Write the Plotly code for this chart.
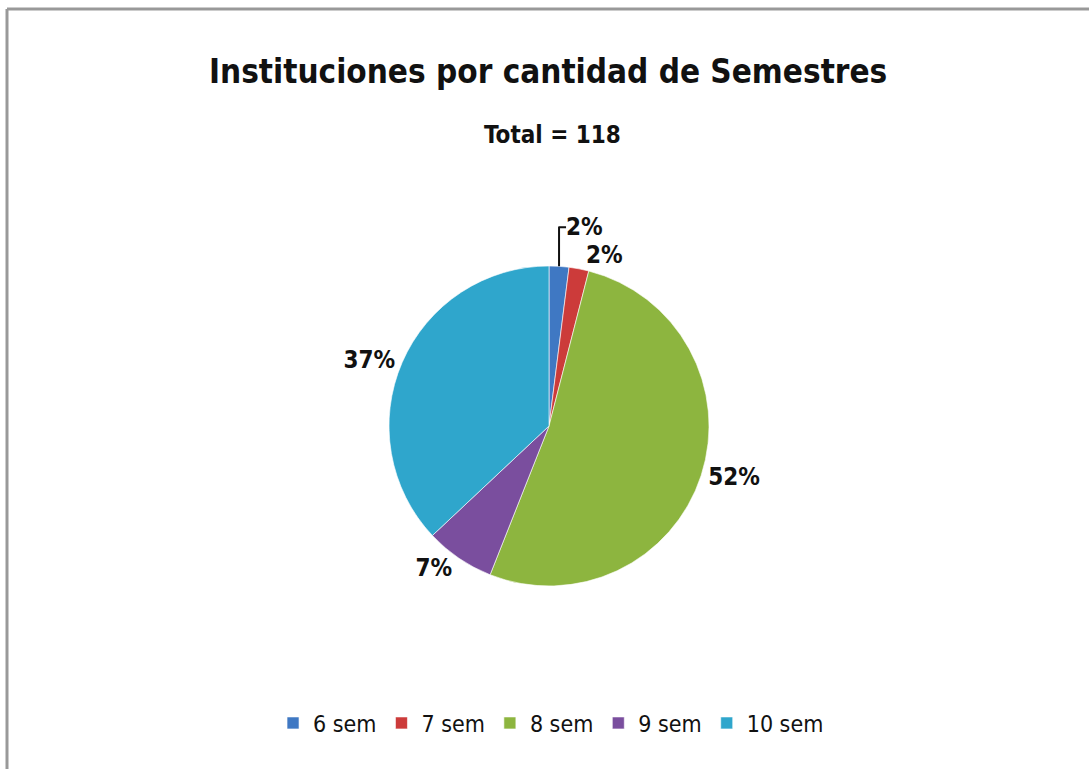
import plotly.graph_objects as go

categories = ["6 sem", "7 sem", "8 sem", "9 sem", "10 sem"]
percent_values = [2, 2, 52, 7, 37]
colors = ["#3F78C3", "#CC3B3A", "#8DB53F", "#7A4E9E", "#2FA6CC"]

title_text = "Instituciones por cantidad de Semestres"
subtitle_text = "Total = 118"

W, H = 1089, 769
narrow = "Liberation Sans Narrow, Arial Narrow, DejaVu Sans Condensed, Roboto Condensed, sans-serif"

cx, cy, d = 549, 426, 320

fig = go.Figure(
    go.Pie(
        labels=categories,
        values=percent_values,
        sort=False,
        direction="clockwise",
        rotation=0,
        marker=dict(colors=colors, line=dict(color="rgba(255,255,255,0.6)", width=1)),
        textposition="outside",
        texttemplate="%{percent:.0%}",
        textfont=dict(family=narrow, size=24, color="#111111", weight="bold"),
        outsidetextfont=dict(family=narrow, size=24, color="#111111", weight="bold"),
        domain=dict(x=[(cx - d / 2) / W, (cx + d / 2) / W],
                    y=[1 - (cy + d / 2) / H, 1 - (cy - d / 2) / H]),
        hoverinfo="label+percent",
    )
)

fig.update_layout(
    width=W,
    height=H,
    margin=dict(l=0, r=0, t=0, b=0),
    paper_bgcolor="white",
    plot_bgcolor="white",
    showlegend=True,
    legend=dict(
        orientation="h",
        x=0.506,
        xanchor="center",
        y=1 - 723 / H,
        yanchor="middle",
        font=dict(family=narrow, size=23, color="#111111"),
        itemwidth=30,
        traceorder="normal",
    ),
    annotations=[
        dict(text="<b>" + title_text + "</b>", x=548 / W, y=1 - 72 / H, xref="paper", yref="paper",
             xanchor="center", yanchor="middle", showarrow=False,
             font=dict(family=narrow, size=33, color="#111111")),
        dict(text="<b>" + subtitle_text + "</b>", x=552 / W, y=1 - 135 / H, xref="paper", yref="paper",
             xanchor="center", yanchor="middle", showarrow=False,
             font=dict(family=narrow, size=24, color="#111111")),
    ],
    shapes=[
        dict(type="line", xref="paper", yref="paper", x0=7 / W, x1=1, y0=1 - 9 / H, y1=1 - 9 / H,
             line=dict(color="#999999", width=3)),
        dict(type="line", xref="paper", yref="paper", x0=7 / W, x1=7 / W, y0=0, y1=1 - 9 / H,
             line=dict(color="#999999", width=3)),
    ],
)

fig.write_html("out.html", config={"displayModeBar": False},
               post_script="document.body.style.margin='0';")
